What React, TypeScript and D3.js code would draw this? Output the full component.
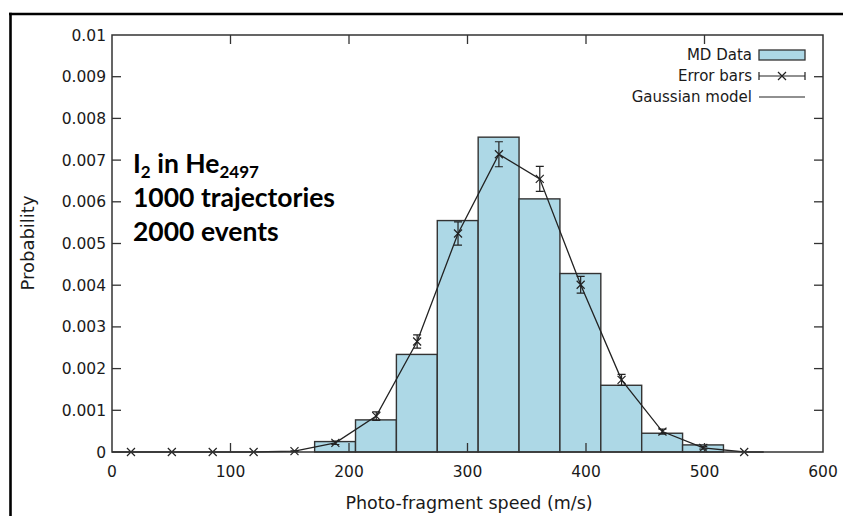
import React from "react";
import * as d3 from "d3";

// speed bins of the MD histogram (m/s)
const binEdges = [171, 205.5, 240, 274.5, 309, 343.5, 378, 412.5, 447, 481.5, 516];
const histValues = [0.00025, 0.00077, 0.00234, 0.00555, 0.00755, 0.00607, 0.00428, 0.0016, 0.00045, 0.00017];

// error-bar points
const errX = [16, 50.5, 85, 119.5, 154, 188.5, 223, 257.5, 292, 326.5, 361, 395.5, 430, 464.5, 499, 533.5];
const errY = [0, 0, 0, 0, 0.00002, 0.00022, 0.00086, 0.00265, 0.00524, 0.00714, 0.00655, 0.00401, 0.00173, 0.00049, 0.0001, 0];
const errD = [0, 0, 0, 0, 0.00001, 0.00004, 0.0001, 0.00016, 0.00028, 0.0003, 0.0003, 0.0002, 0.00013, 0.00006, 0.00003, 0];

// gaussian model curve
const modelX = [0, 16, 50.5, 85, 119.5, 154, 188.5, 223, 257.5, 292, 326.5, 361, 395.5, 430, 464.5, 499, 533.5, 550];
const modelY = [0, 0, 0, 0, 0, 0.00002, 0.00022, 0.00086, 0.00265, 0.00524, 0.00714, 0.00655, 0.00401, 0.00173, 0.00049, 0.0001, 0, 0];

const xTicks = [0, 100, 200, 300, 400, 500, 600];
const yTicks = [0, 0.001, 0.002, 0.003, 0.004, 0.005, 0.006, 0.007, 0.008, 0.009, 0.01];
const legendLabels = ["MD Data", "Error bars", "Gaussian model"];
const noteLines = ["1000 trajectories", "2000 events"];

const W = 843;
const H = 516;
const left = 112;
const right = 823;
const top = 35;
const bottom = 452;

const ink = "#333";
const axisFont = "'DejaVu Sans', Verdana, sans-serif";

export default function App() {
  const x = d3.scaleLinear().domain([0, 600]).range([left, right]);
  const y = d3.scaleLinear().domain([0, 0.01]).range([bottom, top]);
  const tick = 9;

  const line = d3
    .line<number>()
    .x((_, i) => x(modelX[i]))
    .y((d) => y(d));

  const cross = (cx: number, cy: number, s = 4) =>
    `M${cx - s},${cy - s}L${cx + s},${cy + s}M${cx - s},${cy + s}L${cx + s},${cy - s}`;

  const legX1 = 759;
  const legX2 = 805;
  const legY = [55, 76, 97];

  return (
    <svg width={W} height={H} style={{ position: "absolute", left: 0, top: 0, background: "#fff" }}>
      {/* outer frame */}
      <line x1={9} y1={14} x2={W} y2={14} stroke="#000" strokeWidth={2.6} />
      <line x1={10.5} y1={12.7} x2={10.5} y2={H} stroke="#000" strokeWidth={2.6} />

      {/* bars */}
      {histValues.map((v, i) => (
        <rect
          key={i}
          x={x(binEdges[i])}
          y={y(v)}
          width={x(binEdges[i + 1]) - x(binEdges[i])}
          height={y(0) - y(v)}
          fill="#add8e6"
          stroke={ink}
          strokeWidth={1.4}
        />
      ))}

      {/* gaussian model */}
      <path d={line(modelY) || ""} fill="none" stroke="#222" strokeWidth={1.3} />

      {/* error bars */}
      {errX.map((ex, i) => {
        const cx = x(ex);
        const lo = y(errY[i] - errD[i]);
        const hi = y(errY[i] + errD[i]);
        return (
          <g key={i} stroke="#222" strokeWidth={1.2} fill="none">
            <path d={cross(cx, y(errY[i]))} />
            {errD[i] > 0 && (
              <path d={`M${cx},${lo}L${cx},${hi}M${cx - 4},${lo}L${cx + 4},${lo}M${cx - 4},${hi}L${cx + 4},${hi}`} />
            )}
          </g>
        );
      })}

      {/* plot frame + mirrored ticks */}
      <rect x={left} y={top} width={right - left} height={bottom - top} fill="none" stroke={ink} strokeWidth={1.5} />
      {yTicks.slice(1, -1).map((t) => (
        <g key={t} stroke={ink} strokeWidth={1.3}>
          <line x1={left} x2={left + tick} y1={y(t)} y2={y(t)} />
          <line x1={right} x2={right - tick} y1={y(t)} y2={y(t)} />
        </g>
      ))}
      {xTicks.slice(1, -1).map((t) => (
        <g key={t} stroke={ink} strokeWidth={1.3}>
          <line x1={x(t)} x2={x(t)} y1={bottom} y2={bottom - tick} />
          <line x1={x(t)} x2={x(t)} y1={top} y2={top + tick} />
        </g>
      ))}

      {/* tick labels */}
      <g fontFamily={axisFont} fontSize={15.5} fill="#1a1a1a">
        {yTicks.map((t) => (
          <text key={t} x={left - 6} y={y(t) + 5.5} textAnchor="end">
            {t === 0 ? "0" : d3.format("~g")(t)}
          </text>
        ))}
        {xTicks.map((t) => (
          <text key={t} x={x(t)} y={477} textAnchor="middle">
            {t}
          </text>
        ))}
      </g>

      {/* axis titles */}
      <text x={469} y={509} textAnchor="middle" fontFamily={axisFont} fontSize={17.5} fill="#1a1a1a">
        Photo-fragment speed (m/s)
      </text>
      <text
        transform="translate(34,243) rotate(-90)"
        textAnchor="middle"
        fontFamily={axisFont}
        fontSize={18}
        fill="#1a1a1a"
      >
        Probability
      </text>

      {/* legend */}
      <g fontFamily={axisFont} fontSize={15} fill="#1a1a1a">
        {legendLabels.map((l, i) => (
          <text key={l} x={752} y={legY[i] + 5} textAnchor="end">
            {l}
          </text>
        ))}
      </g>
      <rect x={legX1} y={legY[0] - 5} width={legX2 - legX1} height={10} fill="#add8e6" stroke={ink} strokeWidth={1.3} />
      <g stroke="#222" strokeWidth={1.2} fill="none">
        <path d={`M${legX1},${legY[1]}L${legX2},${legY[1]}M${legX1},${legY[1] - 4}L${legX1},${legY[1] + 4}M${legX2},${legY[1] - 4}L${legX2},${legY[1] + 4}`} />
        <path d={cross((legX1 + legX2) / 2, legY[1])} />
        <line x1={legX1} x2={legX2} y1={legY[2]} y2={legY[2]} />
      </g>

      {/* annotation */}
      <g fontFamily="Lato, 'Open Sans', sans-serif" fontWeight={700} fontSize={26.5} fill="#000">
        <text x={133} y={173}>
          I<tspan fontSize={17} dy={5}>2</tspan>
          <tspan dy={-5}> in He</tspan>
          <tspan fontSize={17} dy={5}>2497</tspan>
        </text>
        {noteLines.map((t, i) => (
          <text key={t} x={133} y={207 + i * 34}>
            {t}
          </text>
        ))}
      </g>
    </svg>
  );
}
